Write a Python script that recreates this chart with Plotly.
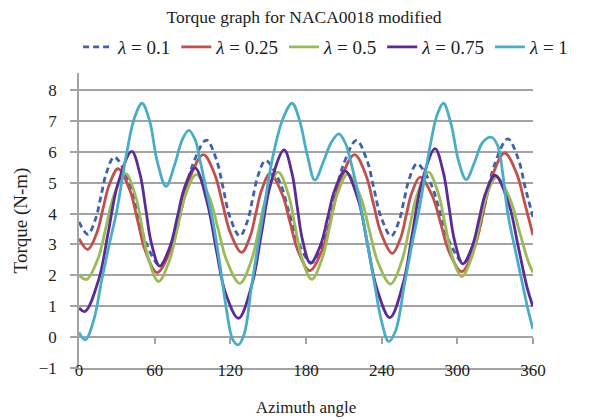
import plotly.graph_objects as go

# ---- data ----
ang_01 = [0, 7, 13.3, 17.5, 21.7, 28, 38.8, 46, 53.2, 64, 75.1, 82.5, 89.9, 101, 109, 114.3, 119.5, 127.5,
          133.7, 137.8, 141.9, 148, 159, 166.3, 173.6, 184.5, 195.2, 202.3, 209.4, 220, 228.3, 233.8, 239.3, 247.5,
          253.7, 257.8, 261.9, 268, 279.1, 286.5, 293.9, 305, 315.5, 322.5, 329.5, 340, 348.3, 353.8, 360]
trq_01 = [3.73, 3.33, 3.85, 4.58, 5.31, 5.83, 5.11, 4.08, 3.05, 2.33, 3.16, 4.36, 5.55, 6.38, 5.74, 4.83, 3.91, 3.27,
          3.77, 4.50, 5.22, 5.72, 5.04, 4.07, 3.09, 2.41, 3.23, 4.39, 5.55, 6.37, 5.73, 4.82, 3.91, 3.27,
          3.75, 4.44, 5.13, 5.61, 4.95, 4.01, 3.07, 2.41, 3.24, 4.42, 5.59, 6.42, 5.77, 4.85, 3.89]

ang_025 = [0, 7, 14.2, 19, 23.8, 31, 40.3, 46.5, 52.7, 62, 73, 80.3, 87.6, 98.6, 107.7, 113.8, 119.9, 129,
           135.8, 140.3, 144.8, 151.5, 161, 167.3, 173.6, 183, 193.7, 200.8, 207.9, 218.5, 227.5, 233.5, 239.5, 248.5,
           255.1, 259.5, 263.9, 270.5, 280.4, 287, 293.6, 303.5, 313.7, 320.5, 327.3, 337.5, 347, 353.3, 360]
trq_025 = [3.19, 2.84, 3.38, 4.15, 4.91, 5.45, 4.76, 3.77, 2.78, 2.09, 2.88, 4.0, 5.12, 5.91, 5.26, 4.33, 3.39, 2.74,
           3.27, 4.02, 4.76, 5.29, 4.64, 3.72, 2.80, 2.15, 2.92, 4.03, 5.14, 5.91, 5.25, 4.31, 3.37, 2.71,
           3.22, 3.95, 4.67, 5.18, 4.55, 3.65, 2.75, 2.12, 2.91, 4.04, 5.17, 5.96, 5.30, 4.36, 3.30]

ang_05 = [0, 6, 15.3, 21.5, 27.7, 37, 44.8, 50, 55.2, 63, 72, 78, 84, 93, 103.4, 110.3, 117.2, 127.5,
          136.7, 142.8, 148.9, 158, 166, 171.3, 176.6, 184.5, 193, 198.8, 204.5, 213, 223.2, 230, 236.8, 247,
          256, 262, 268, 277, 285, 290.3, 295.6, 303.5, 311.8, 317.3, 322.8, 331, 341.8, 349, 356.2, 360]
trq_05 = [2.01, 1.87, 2.57, 3.58, 4.59, 5.29, 4.57, 3.55, 2.52, 1.80, 2.51, 3.53, 4.55, 5.26, 4.53, 3.5, 2.47, 1.74,
          2.48, 3.54, 4.6, 5.34, 4.62, 3.6, 2.58, 1.87, 2.57, 3.58, 4.58, 5.28, 4.55, 3.5, 2.45, 1.72,
          2.47, 3.53, 4.6, 5.34, 4.64, 3.65, 2.66, 1.96, 2.62, 3.57, 4.52, 5.18, 4.47, 3.46, 2.45, 2.09]

ang_075 = [0, 4.8, 15.9, 23.3, 30.7, 41.8, 48.5, 52.9, 57.3, 64, 72.4, 78, 83.6, 92, 102, 109, 116, 126.5,
           137.3, 144.6, 151.8, 162.6, 168.9, 173, 177.2, 183.5, 191.8, 197.3, 202.8, 211, 221.7, 228.8, 235.9, 246.5,
           257.2, 264.4, 271.6, 282.3, 288.9, 293.3, 297.7, 304.3, 312, 317.2, 322.3, 330, 341, 348.3, 355.6, 360]
trq_075 = [0.94, 0.83, 1.90, 3.42, 4.94, 6.01, 5.25, 4.16, 3.06, 2.3, 2.96, 3.89, 4.83, 5.48, 4.3, 2.8, 1.45, 0.61,
           1.73, 3.34, 4.94, 6.06, 5.30, 4.23, 3.15, 2.39, 3.01, 3.89, 4.76, 5.38, 4.40, 3.0, 1.61, 0.63,
           1.76, 3.37, 4.97, 6.1, 5.33, 4.24, 3.14, 2.37, 2.96, 3.81, 4.65, 5.24, 4.29, 2.93, 1.56, 0.99]

ang_1 = [0, 5, 12, 18, 24, 30, 38, 44, 50, 56, 62, 69, 76, 82, 87, 92, 96, 101, 106.5, 112, 117, 122, 126.3,
         131, 137, 146, 154, 162, 169, 175, 181, 187, 194, 200, 206, 211, 216, 222, 228, 234, 240, 245.5,
         251, 258, 264, 270, 278, 284, 289, 295, 301, 307, 314, 320, 327, 332, 336, 340, 345, 351, 356, 360]
trq_1 = [0.15, -0.09, 0.6, 1.85, 3.0, 4.1, 6.0, 7.1, 7.57, 7.0, 5.7, 4.88, 5.6, 6.4, 6.69, 6.4, 5.72, 4.75, 3.68, 2.28, 0.88, -0.09, -0.25,
         0.1, 1.7, 4.0, 5.9, 7.1, 7.57, 7.0, 5.9, 5.08, 5.7, 6.3, 6.58, 6.3, 5.6, 4.5, 3.2, 1.8, 0.5, -0.14,
         0.2, 1.7, 3.0, 4.2, 6.1, 7.2, 7.57, 6.9, 5.7, 5.1, 5.7, 6.3, 6.47, 6.2, 5.3, 4.0, 3.0, 1.85, 0.9, 0.26]

series_names = ["<i>λ</i> = 0.1", "<i>λ</i> = 0.25", "<i>λ</i> = 0.5", "<i>λ</i> = 0.75", "<i>λ</i> = 1"]
x_ticks = [0, 60, 120, 180, 240, 300, 360]
y_ticks = [-1, 0, 1, 2, 3, 4, 5, 6, 7, 8]

colors = ["#3F62AA", "#C0504D", "#9BBB59", "#5B2C94", "#4BACC6"]
dashes = ["6px,4px", "solid", "solid", "solid", "solid"]
SERIF = "Liberation Serif, Times New Roman, serif"
GRID = "#A3A3A3"

fig = go.Figure()
for xs, ys, name, col, d in zip([ang_01, ang_025, ang_05, ang_075, ang_1],
                                 [trq_01, trq_025, trq_05, trq_075, trq_1],
                                 series_names, colors, dashes):
    fig.add_trace(go.Scatter(x=xs, y=ys, name=name, mode="lines",
                             line=dict(color=col, width=2.8, dash=d, shape="spline", smoothing=1.0)))

# helper trace for tick stubs along y = 0
fig.add_trace(go.Scatter(x=[], y=[], xaxis="x2", yaxis="y", showlegend=False, hoverinfo="skip"))

W, H = 592, 412
y_lo, y_hi = -1, 8.55
fig.update_layout(
    width=W, height=H,
    margin=dict(l=71, r=67, t=65, b=52),
    paper_bgcolor="white", plot_bgcolor="white",
    font=dict(family=SERIF, size=16, color="#222222"),
    title=dict(text="Torque graph for NACA0018 modified", x=296/W, xref="container", xanchor="center",
               y=1 - 8.5/H, yref="container", yanchor="middle", font=dict(size=17.5)),
    legend=dict(orientation="h", x=-0.002, xanchor="left", y=1.088, yanchor="middle",
                font=dict(size=19), bgcolor="rgba(0,0,0,0)", itemwidth=30, tracegroupgap=0),
    showlegend=True,
    xaxis=dict(range=[0, 360], tickvals=x_ticks, ticks="", showgrid=False, zeroline=False,
               showline=True, linecolor=GRID, linewidth=2, automargin=False,
               tickfont=dict(size=17), ticklabelstandoff=-14,
               title=dict(text="Azimuth angle", standoff=22, font=dict(size=17))),
    xaxis2=dict(range=[0, 360], overlaying="x", anchor="free", position=(0 - y_lo) / (y_hi - y_lo),
                tickvals=x_ticks[1:], ticks="outside", ticklen=6, tickcolor=GRID, tickwidth=1.5,
                showticklabels=False, showgrid=False, zeroline=False, showline=False),
    yaxis=dict(range=[y_lo, y_hi], tickvals=y_ticks, ticks="outside", ticklen=7, tickcolor=GRID,
               tickwidth=1.5, showgrid=True, gridcolor=GRID, gridwidth=2, zeroline=False,
               showline=True, linecolor=GRID, linewidth=1.5, tickfont=dict(size=17), automargin=False,
               ticklabelstandoff=10,
               title=dict(text="Torque (N-m)", standoff=6, font=dict(size=19))),
)

fig.write_html("out.html")
